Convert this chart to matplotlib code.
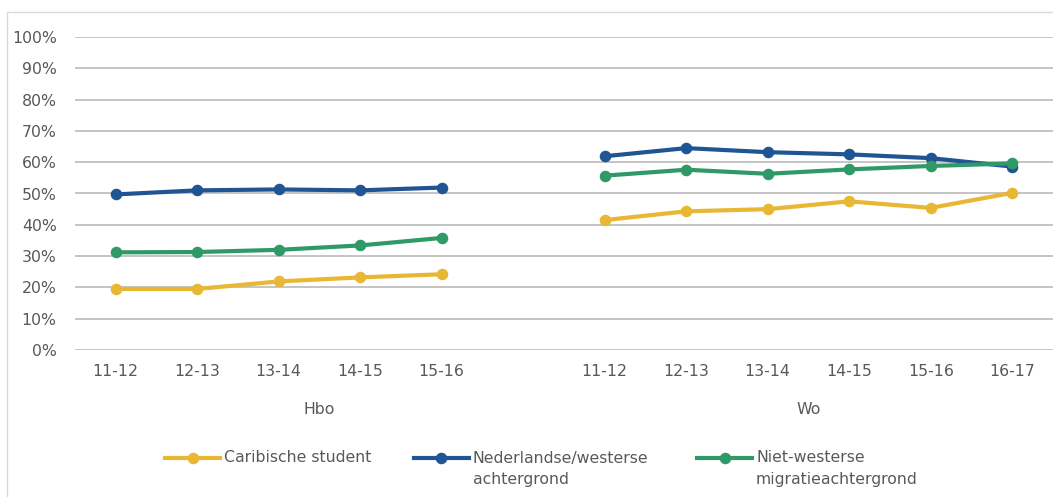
import matplotlib
matplotlib.use("Agg")
import matplotlib.pyplot as plt
from matplotlib.lines import Line2D
from matplotlib.patches import Rectangle

# data
groups = ["Hbo", "Wo"]
hbo_years = ["11-12", "12-13", "13-14", "14-15", "15-16"]
wo_years = ["11-12", "12-13", "13-14", "14-15", "15-16", "16-17"]

series_names = ["Caribische student", "Nederlandse/westerse\nachtergrond",
                "Niet-westerse\nmigratieachtergrond"]
hbo_caribisch = [0.195, 0.195, 0.219, 0.232, 0.242]
hbo_nederlands = [0.497, 0.510, 0.513, 0.510, 0.519]
hbo_nietwesters = [0.312, 0.313, 0.320, 0.334, 0.358]
wo_caribisch = [0.415, 0.443, 0.450, 0.475, 0.454, 0.502]
wo_nederlands = [0.619, 0.645, 0.632, 0.625, 0.613, 0.586]
wo_nietwesters = [0.557, 0.576, 0.563, 0.577, 0.588, 0.596]

colors = ["#E8B733", "#1F5592", "#2F9A67"]
text_col = "#595959"
grid_col = "#BFBFBF"
fs = 11.3

plt.rcParams['font.family'] = ['DejaVu Sans']

W, H = 1053, 497
fig = plt.figure(figsize=(W / 100, H / 100), dpi=100)
ax = fig.add_axes([74.75 / W, (H - 350) / H, 1 - 74.75 / W, 313 / H])

# Hbo takes slots 0..4, slot 5 is empty, Wo takes 6..11
hbo_x = list(range(len(hbo_years)))
wo_x = [len(hbo_years) + 1 + i for i in range(len(wo_years))]

hbo_vals = [hbo_caribisch, hbo_nederlands, hbo_nietwesters]
wo_vals = [wo_caribisch, wo_nederlands, wo_nietwesters]
for i in range(3):
    ax.plot(hbo_x, hbo_vals[i], color=colors[i], lw=3, marker='o', ms=7.3,
            solid_capstyle='round', clip_on=False, zorder=3)
    ax.plot(wo_x, wo_vals[i], color=colors[i], lw=3, marker='o', ms=7.3,
            solid_capstyle='round', clip_on=False, zorder=3)

ax.set_xlim(-0.5, 11.5)
ax.set_ylim(0, 1)
yt = [i / 10 for i in range(11)]
ax.set_yticks(yt)
ax.set_yticklabels([f"{int(round(v * 100))}%" for v in yt])
ax.set_xticks(hbo_x + wo_x)
ax.set_xticklabels(hbo_years + wo_years)
ax.tick_params(length=0, colors=text_col, labelsize=fs)
ax.tick_params(axis='y', pad=13)
ax.tick_params(axis='x', pad=10)
ax.grid(axis='y', color=grid_col, lw=1.3)
ax.set_axisbelow(True)
for s in ax.spines.values():
    s.set_visible(False)

# group labels under the years
trans = ax.get_xaxis_transform()
ax.text((hbo_x[0] + hbo_x[-1] + 1) / 2, -0.1885, groups[0], transform=trans,
        ha='center', va='center', color=text_col, fontsize=fs)
ax.text((wo_x[0] + wo_x[-1]) / 2, -0.1885, groups[1], transform=trans,
        ha='center', va='center', color=text_col, fontsize=fs)

# legend, handle lined up with the first text line
leg_y = 1 - 458 / H
leg_x = [165, 414, 697]
for i in range(3):
    x0 = leg_x[i] / W
    x1 = (leg_x[i] + 55) / W
    fig.add_artist(Line2D([x0, x1], [leg_y, leg_y], color=colors[i], lw=3,
                          transform=fig.transFigure))
    fig.add_artist(Line2D([(x0 + x1) / 2], [leg_y], color=colors[i], marker='o',
                          ms=7.3, transform=fig.transFigure))
    for k, line in enumerate(series_names[i].split("\n")):
        fig.text(x1 + 4 / W, leg_y - k * 21.5 / H, line, ha='left', va='center',
                 color=text_col, fontsize=fs)

# chart frame
fig.add_artist(Rectangle((7 / W, -0.1), 1.2, 1 - 12 / H + 0.1, fill=False,
                         edgecolor="#D9D9D9", lw=1, transform=fig.transFigure))

fig.savefig("out.png", dpi=100)
